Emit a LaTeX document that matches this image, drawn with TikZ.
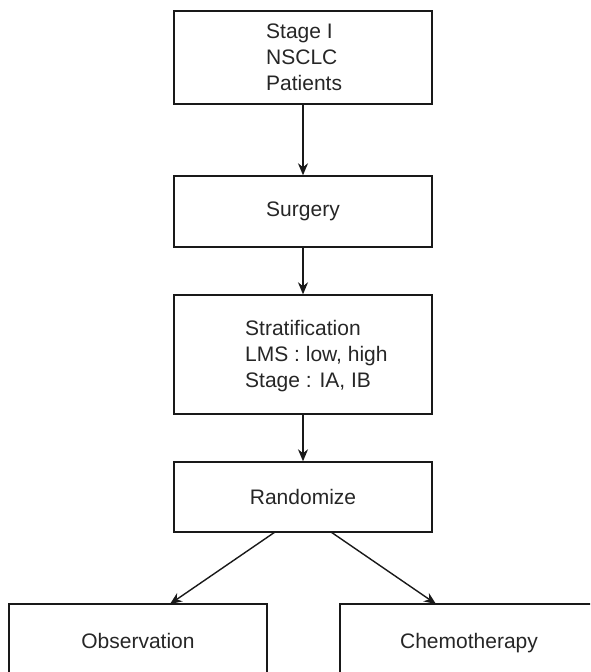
\documentclass[tikz,border=0pt]{standalone}
\usepackage{fontspec}
\setmainfont{Liberation Sans}
\usetikzlibrary{arrows.meta}
\begin{document}
\begin{tikzpicture}[x=1pt,y=-1pt,
  box/.style={draw=black!90,line width=1.4pt,minimum width=258pt,inner sep=0pt,font=\fontsize{21}{26}\selectfont,text=black!85},
  fixbase/.style={text height=15pt,text depth=4.5pt},
  txt/.style={inner sep=0pt,align=left,anchor=west,font=\fontsize{21}{26}\selectfont,text=black!85},
  conn/.style={draw=black!90,line width=1.4pt,-{Stealth[length=12pt,width=10pt]}}]
\useasboundingbox (0,0) rectangle (590,672);
\clip (0,0) rectangle (590,672);
\node[box,minimum height=93pt] (b1) at (303,57.5) {};
\node[txt] (l1) at (266,57.5) {Stage I\\NSCLC\\Patients};
\node[box,minimum height=71pt] (b2) at (303,211.5) {Surgery};
\node[box,minimum height=119pt] (b3) at (303,354.5) {};
\node[txt] (l3) at (245,356) {Stratification\\LMS : low, high\\Stage : IA, IB};
\node[box,minimum height=70pt] (b4) at (303,497) {Randomize};
\node[box,fixbase,minimum height=78pt] (b5) at (138,643) {Observation};
\node[box,fixbase,minimum height=78pt] (b6) at (469,643) {Chemotherapy};
\coordinate (s1) at (275,532);
\coordinate (s2) at (331,532);
\coordinate (t1) at (170,604);
\coordinate (t2) at (436,604);
\draw[conn] (b1) -- (b2);
\draw[conn] (b2) -- (b3);
\draw[conn] (b3) -- (b4);
\draw[conn] (s1) -- (t1);
\draw[conn] (s2) -- (t2);
\end{tikzpicture}
\end{document}
